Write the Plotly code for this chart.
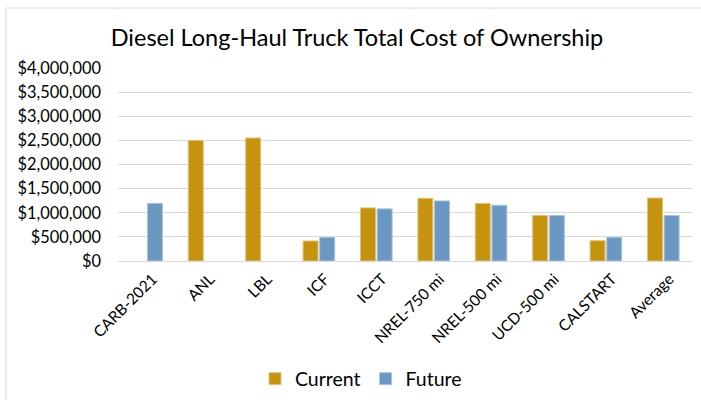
import plotly.graph_objects as go

categories = ["CARB-2021", "ANL", "LBL", "ICF", "ICCT", "NREL-750 mi", "NREL-500 mi", "UCD-500 mi", "CALSTART", "Average"]
current = [None, 2500000, 2550000, 415000, 1100000, 1300000, 1195000, 945000, 420000, 1305000]
future = [1195000, None, None, 490000, 1080000, 1245000, 1155000, 945000, 490000, 945000]

gold = "#C59310"
blue = "#6A98C2"
font = "Lato"

fig = go.Figure()
fig.add_trace(go.Bar(x=categories, y=current, name="Current",
                     marker=dict(color=gold, line=dict(color="#E3C27A", width=1))))
fig.add_trace(go.Bar(x=categories, y=future, name="Future",
                     marker=dict(color=blue, line=dict(color="#A9C4DD", width=1))))

W, H = 701, 400
L, R, T, B = 118, 9, 68, 139
pw = W - L - R
ph = H - T - B

def px(x):
    return (x - L) / pw

def py(y):
    return (H - B - y) / ph

fig.update_layout(
    width=W, height=H,
    margin=dict(l=L, r=R, t=T, b=B, autoexpand=False),
    paper_bgcolor="white", plot_bgcolor="white",
    font=dict(family=font, color="#262626"),
    barmode="group", bargap=0.42, bargroupgap=0.1,
    title=dict(text="Diesel Long-Haul Truck Total Cost of Ownership",
               font=dict(size=23.5, color="#000000", family=font),
               x=px(357), xref="paper", xanchor="center",
               y=1 - 38 / H, yanchor="middle"),
    showlegend=True,
    legend=dict(orientation="h", x=px(361), xanchor="center",
                y=py(379), yanchor="middle",
                font=dict(size=19.5, color="#000000", family=font),
                itemwidth=30, traceorder="normal"),
    xaxis=dict(tickangle=-45, tickfont=dict(size=15.5, color="#000000"),
               showline=True, linecolor="#D9D9D9", linewidth=1,
               ticks="", showgrid=False, automargin=False,
               ticklabelstandoff=2, ticklabelshift=6),
    yaxis=dict(range=[0, 4000000], dtick=500000, tickformat="$,.0f",
               tickfont=dict(size=16.4, color="#000000"),
               showgrid=True, gridcolor="#D9D9D9", gridwidth=1,
               zeroline=False, ticks="", ticklen=0, automargin=False,
               ticklabelstandoff=16),
    shapes=[dict(type="rect", xref="paper", yref="paper",
                 x0=px(6), x1=px(720), y0=py(420), y1=py(8),
                 line=dict(color="#D9D9D9", width=1), fillcolor="rgba(0,0,0,0)",
                 layer="below")],
)

fig.write_html("out.html")
